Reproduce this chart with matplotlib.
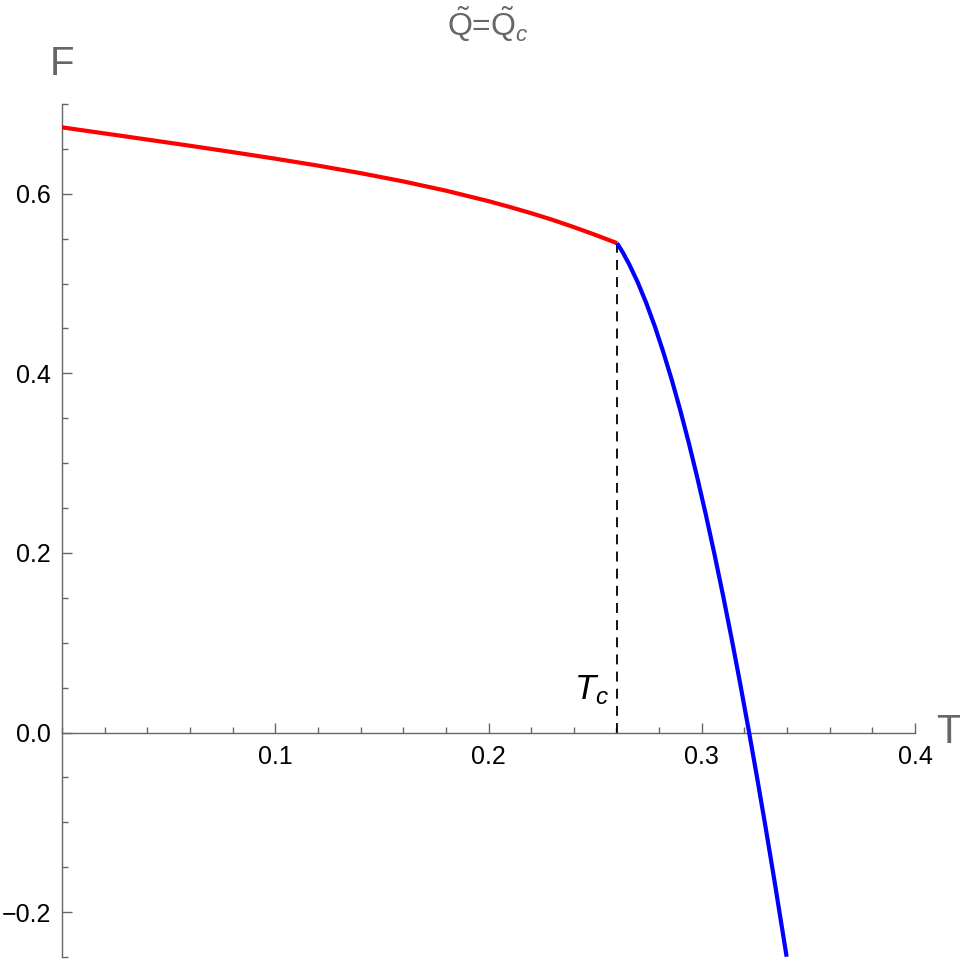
import matplotlib
matplotlib.use('Agg')
from matplotlib import pyplot as plt
from matplotlib.ticker import MultipleLocator, FixedLocator

plt.rcParams['font.family'] = ['Liberation Sans', 'DejaVu Sans']
plt.rcParams['mathtext.fontset'] = 'custom'
plt.rcParams['mathtext.rm'] = 'Liberation Sans'
plt.rcParams['mathtext.it'] = 'Liberation Sans:italic'

# branch below Tc (red)
t_low = [0.0, 0.02, 0.04, 0.06, 0.08, 0.10, 0.12, 0.14, 0.16, 0.18,
         0.20, 0.21, 0.22, 0.23, 0.24, 0.25, 0.2603]
f_low = [0.674, 0.6672, 0.6604, 0.6535, 0.6464, 0.6391, 0.6314, 0.6230, 0.6138, 0.6035,
         0.5918, 0.5853, 0.5784, 0.5710, 0.5629, 0.5543, 0.545]

# branch above Tc (blue)
t_high = [0.2603, 0.263, 0.266, 0.270, 0.274, 0.278, 0.282, 0.286, 0.290, 0.294,
          0.298, 0.302, 0.306, 0.310, 0.314, 0.318, 0.322, 0.326, 0.330, 0.334, 0.3398]
f_high = [0.545, 0.5346, 0.5214, 0.5013, 0.4782, 0.4523, 0.4235, 0.3923, 0.3583, 0.3219,
          0.2830, 0.2418, 0.1982, 0.1525, 0.1047, 0.0548, 0.0029, -0.0509, -0.1064, -0.1637, -0.2497]

t_c = 0.2603
f_c = 0.545

x_ticks = [0.1, 0.2, 0.3, 0.4]
x_labels = ['0.1', '0.2', '0.3', '0.4']
y_ticks = [-0.2, 0.0, 0.2, 0.4, 0.6]
y_labels = ['\u22120.2', '0.0', '0.2', '0.4', '0.6']

gray = '#666666'

fig = plt.figure(figsize=(9.6, 9.59), dpi=100)
ax = fig.add_axes([62/960, 2/959, 853/960, 853/959])

ax.plot(t_low, f_low, color='#ff0000', lw=3, solid_capstyle='butt', zorder=3)
ax.plot(t_high, f_high, color='#0000ff', lw=3, solid_capstyle='butt', zorder=3)
ax.plot([t_c, t_c], [0, f_c], color='black', lw=1.3, linestyle=(0, (5.5, 4)), zorder=2)

ax.set_xlim(0, 0.4)
ax.set_ylim(-0.25, 0.7)

ax.spines['top'].set_visible(False)
ax.spines['right'].set_visible(False)
ax.spines['bottom'].set_position(('data', 0))
for s in ['left', 'bottom']:
    ax.spines[s].set_color(gray)
    ax.spines[s].set_linewidth(1.0)

ax.xaxis.set_major_locator(FixedLocator(x_ticks))
ax.set_xticklabels(x_labels)
ax.xaxis.set_minor_locator(MultipleLocator(0.02))
ax.yaxis.set_major_locator(FixedLocator(y_ticks))
ax.set_yticklabels(y_labels)
ax.yaxis.set_minor_locator(MultipleLocator(0.05))

ax.tick_params(which='both', direction='in', color=gray, width=1.0,
               labelsize=18, labelcolor='black')
ax.tick_params(which='major', length=7.2)
ax.tick_params(which='minor', length=4.3)
ax.tick_params(axis='x', which='both', pad=9)
ax.tick_params(axis='y', which='both', pad=8)

ax.text(0.2485, 0.047, r'$T_c$', fontsize=25, ha='center', va='center')

fig.text(62/960, 1 - 64/959, 'F', fontsize=29, color=gray, ha='center', va='center')
fig.text(948/960, 1 - 732/959, 'T', fontsize=29, color=gray, ha='center', va='center')
fig.text(488/960, 1 - 24/959, r'$\tilde{\mathrm{Q}}$=$\tilde{\mathrm{Q}}_c$',
         fontsize=23, color=gray, ha='center', va='center')

fig.savefig('out.png', dpi=100)
